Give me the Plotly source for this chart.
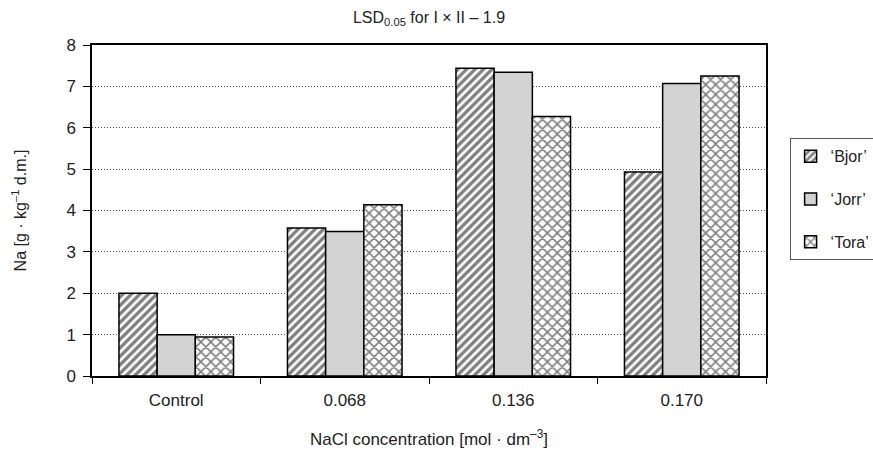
import plotly.graph_objects as go

categories = ["Control", "0.068", "0.136", "0.170"]
cultivars = ["‘Bjor’", "‘Jorr’", "‘Tora’"]
bjor = [2.0, 3.58, 7.44, 4.93]
jorr = [1.0, 3.49, 7.34, 7.07]
tora = [0.94, 4.14, 6.27, 7.25]

FONT = "Liberation Sans, Arial, sans-serif"

fig = go.Figure()
styles = [
    dict(color="white", pattern=dict(shape="/", fgcolor="black", bgcolor="white", size=6, solidity=0.55)),
    dict(color="#d3d3d3"),
    dict(color="white", pattern=dict(shape="x", fgcolor="black", bgcolor="white", size=7, solidity=0.4)),
]
for i, (name, vals) in enumerate(zip(cultivars, [bjor, jorr, tora])):
    m = dict(styles[i])
    m["line"] = dict(color="black", width=1.5)
    fig.add_trace(go.Bar(x=categories, y=vals, name=name, marker=m, legendgroup=str(i)))

fig.update_layout(
    width=873, height=452,
    margin=dict(l=92, r=107, t=45, b=76, autoexpand=False),
    paper_bgcolor="white", plot_bgcolor="white",
    barmode="group", bargap=0.32, bargroupgap=0,
    font=dict(family=FONT, size=16, color="#222222"),
    title=dict(text="LSD<sub>0.05</sub> for I × II – 1.9", x=(92 + 766) / 2 / 873, xanchor="center",
               y=0.962, yanchor="middle", font=dict(size=16)),
    legend=dict(x=1.035, y=0.718, xanchor="left", yanchor="top", bgcolor="white",
                bordercolor="#555555", borderwidth=1, tracegroupgap=19,
                font=dict(size=16), itemwidth=30),
    showlegend=True,
)
fig.update_xaxes(
    showline=True, linecolor="black", linewidth=1.5, mirror=True,
    tickson="boundaries", ticks="outside", ticklen=6, tickcolor="black",
    ticklabelstandoff=8,
    title=dict(text="NaCl concentration [mol · dm<sup>–3</sup>]", font=dict(size=17), standoff=24),
    tickfont=dict(size=17),
)
fig.update_yaxes(
    range=[0, 8], dtick=1, showline=True, linecolor="black", linewidth=1.5, mirror=True,
    ticks="outside", ticklen=7, tickcolor="black",
    ticklabelstandoff=4,
    showgrid=True, gridcolor="#555555", griddash="1px,2px", gridwidth=1,
    title=dict(text="Na [g · kg<sup>–1</sup> d.m.]", font=dict(size=16), standoff=36),
    tickfont=dict(size=17), zeroline=False,
)
fig.write_html("out.html", config={"displayModeBar": False},
               post_script="document.body.style.margin='0px';")
